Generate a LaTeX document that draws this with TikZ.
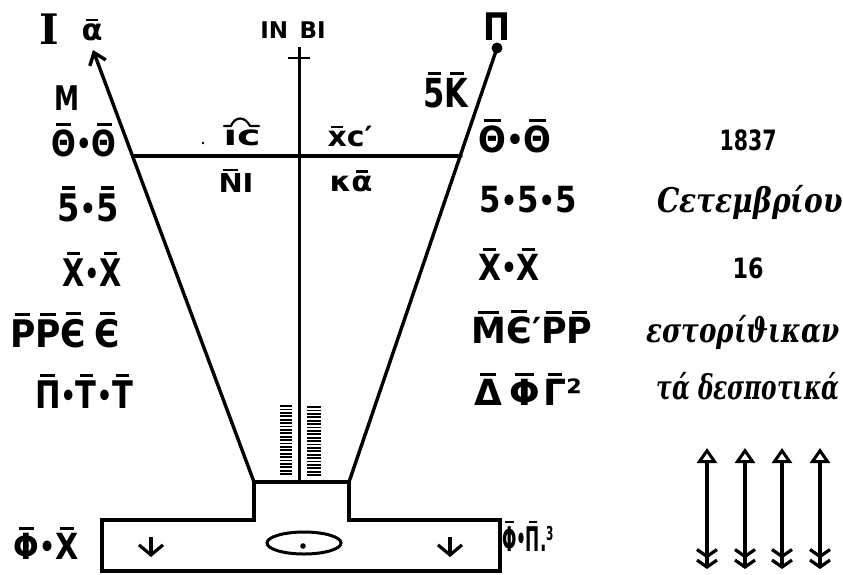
\documentclass[tikz,border=0pt]{standalone}
\usepackage{fontspec}
\usepackage{graphicx}
\setmainfont{DejaVu Sans}
\newfontfamily\grk{DejaVu Serif}
\usetikzlibrary{arrows.meta}
\newcommand\ob[1]{\setbox0\hbox{#1}\rlap{\hbox to\wd0{\hss\raisebox{\dimexpr\ht0+0.1em\relax}{\rule{0.6\wd0}{0.08em}}\hss}}\box0}
\newcommand\fitw[2]{\resizebox{#1pt}{\height}{#2}}
\newcommand\fs[1]{\fontsize{#1}{#1}\selectfont}
\newcommand\dt{{\fontsize{30}{30}\selectfont\raisebox{1.5pt}{•}}}
\begin{document}
\begin{tikzpicture}[x=1pt,y=-1pt,
  lbl/.style={inner sep=0pt, anchor=center},
  heavy/.style={line width=3.4pt, line cap=round, line join=round},
  hatch/.style={line width=1.8pt},
  small/.style={line width=3pt}]
\useasboundingbox (0,0) rectangle (843,574);
% main frame points
\coordinate (LT) at (93,50);
\coordinate (LB) at (254,482);
\coordinate (RT) at (497,48);
\coordinate (RB) at (349,482);
\coordinate (HL) at (133,156);
\coordinate (HR) at (461,156);
\coordinate (CT) at (299,47);
\coordinate (CB) at (299,482);
\coordinate (CXL) at (288,58);
\coordinate (CXR) at (310,58);
% frame
\draw[heavy, -{Straight Barb[length=11pt,width=17pt]}] (LB) -- (LT);
\draw[heavy] (RB) -- (RT);
\fill (RT) circle (5.5pt);
\draw[heavy] (HL) -- (HR);
\draw[line width=3pt] (CT) -- (CB);
\draw[line width=2.8pt] (CXL) -- (CXR);
\draw[heavy, line join=miter, line cap=butt] (102,571) -- (102,520) -- (254,520) -- (LB) -- (RB) -- (349,520) -- (500,520) -- (500,571) -- cycle;
% hatching
\foreach \y in {406,409.4,...,477} {
  \draw[hatch] (280,\y) -- (292,\y);
  \draw[hatch] (307,\y+1) -- (321,\y+1);
}
% oval and arrows in box
\draw[small] (304,543) ellipse [x radius=37pt, y radius=11pt];
\fill (303,546) circle (2.8pt);
\coordinate (a1t) at (151,537); \coordinate (a1b) at (151,557);
\coordinate (a2t) at (450,537); \coordinate (a2b) at (450,557);
\draw[line width=3.2pt, -{Straight Barb[length=10pt,width=24pt]}] (a1t) -- (a1b);
\draw[line width=3.2pt, -{Straight Barb[length=10pt,width=24pt]}] (a2t) -- (a2b);
% right double arrows
\foreach \x in {707,745,782,820} {
  \coordinate (dt\x) at (\x,448);
  \coordinate (db\x) at (\x,569);
  \draw[line width=3.2pt, {Triangle[open,length=15pt,width=20pt,line width=3pt]}-{Straight Barb[length=7pt,width=20pt]Straight Barb[length=7pt,width=20pt]}] (dt\x) -- (db\x);
}
% top labels
\node[lbl,font=\grk\bfseries\fs{42}] (I) at (49,29) {I};
\node[lbl,font=\bfseries\fs{30}] (alph) at (92,30) {\fitw{21}{\ob{α}}};
\node[lbl,font=\bfseries\fs{23}] (inbi) at (293,30) {IN\hspace{0.5em}BI};
\node[lbl,font=\bfseries\fs{38}] (pi) at (497,27) {\fitw{27}{Π}};
\node[lbl,font=\bfseries\fs{34}] (M) at (67,98) {\fitw{25}{M}};
\node[lbl,font=\bfseries\fs{40}] (fk) at (446,90) {\fitw{45}{\ob{5}\ob{K}}};
% cross labels
\fill (203,143) circle (1.4pt);
\node[lbl,font=\bfseries\fs{28}] (ic) at (242,138) {\fitw{37}{ıc}};
\draw[line width=2.2pt, line cap=round, line join=round] (224,126) -- (231,126) .. controls (235,116) and (245,116) .. (250,126) -- (259,126);
\node[lbl,font=\bfseries\fs{26}] (ni) at (236,181) {\fitw{35}{\ob{N}I}};
\node[lbl,font=\bfseries\fs{28}] (xc) at (350,136) {\fitw{45}{\ob{x}c′}};
\node[lbl,font=\bfseries\fs{28}] (ka) at (351,181) {\fitw{43}{κ\ob{α}}};
% left column
\node[lbl,font=\bfseries\fs{36}] (tl) at (84,140) {\fitw{65}{\ob{Θ}\dt\ob{Θ}}};
\node[lbl,font=\bfseries\fs{38}] (fl) at (88,204) {\fitw{61}{\ob{5}\dt\ob{5}}};
\node[lbl,font=\bfseries\fs{38}] (xl) at (92,269) {\fitw{59}{\ob{X}\dt\ob{X}}};
\node[lbl,font=\bfseries\fs{38}] (pl) at (65,330) {\fitw{110}{\ob{P}\ob{P}\ob{Є}\hspace{0.25em}\ob{Є}}};
\node[lbl,font=\bfseries\fs{38}] (tl2) at (84,391) {\fitw{98}{\ob{Π}\dt\ob{T}\dt\ob{T}}};
% right column
\node[lbl,font=\bfseries\fs{36}] (tr) at (515,136) {\fitw{73}{\ob{Θ}\dt\ob{Θ}}};
\node[lbl,font=\bfseries\fs{36}] (fr) at (528,200) {\fitw{97}{5\dt 5\dt 5}};
\node[lbl,font=\bfseries\fs{36}] (xr) at (509,264) {\fitw{62}{\ob{X}\dt\ob{X}}};
\node[lbl,font=\bfseries\fs{36}] (mr) at (532,327) {\fitw{121}{\ob{M}\ob{Є}′\ob{P}\ob{P}}};
\node[lbl,font=\bfseries\fs{36}] (dr) at (528,389) {\fitw{108}{\ob{Δ}\hspace{0.2em}\ob{Φ}\hspace{0.1em}\ob{Γ}²}};
% far right column
\node[lbl,font=\bfseries\fs{28}] (y1837) at (748,140) {\fitw{57}{1837}};
\node[lbl,font=\grk\bfseries\itshape\fs{34}] (sep) at (750,202) {\fitw{185}{Cετεμβρίου}};
\node[lbl,font=\bfseries\fs{28}] (d16) at (748,268) {\fitw{31}{16}};
\node[lbl,font=\grk\bfseries\itshape\fs{34}] (est) at (743,332) {\fitw{193}{εστορίϑικαν}};
\node[lbl,font=\grk\bfseries\itshape\fs{34}] (desp) at (748,387) {\fitw{183}{τά δεσποτικά}};
% bottom labels
\node[lbl,font=\bfseries\fs{36}] (phx) at (46,543) {\fitw{65}{\ob{Φ}\dt\ob{X}}};
\node[lbl,font=\bfseries\fs{34}] (php) at (528,536) {\fitw{52}{\ob{Φ}\dt\ob{Π}.³}};
\end{tikzpicture}
\end{document}
